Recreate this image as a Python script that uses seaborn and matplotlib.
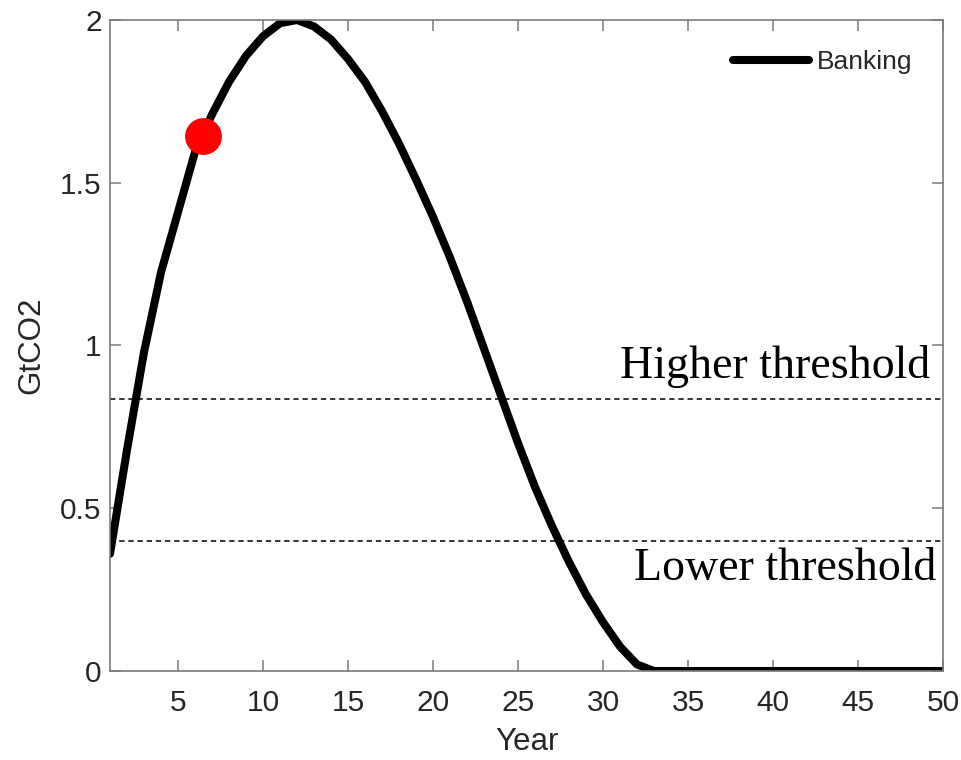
import matplotlib
matplotlib.use("Agg")
import matplotlib.pyplot as plt
import seaborn as sns
import pandas as pd

years = list(range(1, 51))
banking = [0.36, 0.68, 0.98, 1.225, 1.41, 1.595, 1.71, 1.81, 1.89, 1.95,
           1.99, 2.00, 1.98, 1.94, 1.88, 1.81, 1.72, 1.62, 1.51, 1.395,
           1.27, 1.135, 0.99, 0.845, 0.70, 0.565, 0.445, 0.335, 0.235, 0.15,
           0.075, 0.02, 0.0] + [0.0] * 17
marker_year = [6.45]
marker_value = [1.645]
thresholds = [0.835, 0.40]
threshold_labels = ["Higher threshold", "Lower threshold"]

sns.set_theme(style="white")
plt.rcParams['font.family'] = ['Liberation Sans', 'DejaVu Sans']

fig = plt.figure(figsize=(9.61, 7.6), dpi=100)
ax = fig.add_axes([0.1145, 0.1171, 0.8668, 0.8566])

df = pd.DataFrame({"Year": years, "GtCO2": banking})
sns.lineplot(data=df, x="Year", y="GtCO2", ax=ax, color="black", linewidth=5.8,
             label="Banking")
ax.plot(marker_year, marker_value, 'o', color="#ff0000", markersize=25.5, zorder=5)

for t in thresholds:
    ax.axhline(t, color="black", linestyle=(0, (3.5, 2.5)), linewidth=1.1, zorder=1)

ax.text(49.25, thresholds[0] + 0.10, threshold_labels[0], ha="right", va="center",
        fontsize=33, family=["Liberation Serif"], color="black")
ax.text(49.6, thresholds[1] - 0.087, threshold_labels[1], ha="right", va="center",
        fontsize=33, family=["Liberation Serif"], color="black")

ax.set_xlim(1, 50)
ax.set_ylim(0, 2)
ax.set_xticks([5, 10, 15, 20, 25, 30, 35, 40, 45, 50])
ax.set_yticks([0, 0.5, 1, 1.5, 2])
ax.set_yticklabels(["0", "0.5", "1", "1.5", "2"])
ax.set_xlabel("Year", fontsize=22.5, color="#262626", labelpad=7)
ax.set_ylabel("GtCO2", fontsize=22.5, color="#262626", labelpad=10)

for s in ax.spines.values():
    s.set_visible(True)
    s.set_color("#7a7a7a")
    s.set_linewidth(1.2)
ax.tick_params(direction="in", length=8, width=1.1, color="#7a7a7a",
               labelsize=21.5, labelcolor="#262626", top=True, right=True,
               bottom=True, left=True)
ax.tick_params(axis="x", pad=13)
ax.tick_params(axis="y", pad=6)

leg = ax.legend(loc="upper right", frameon=False, fontsize=19, handlelength=2.9,
                handletextpad=0.3, borderaxespad=0.75)
for line in leg.get_lines():
    line.set_linewidth(5.8)

fig.savefig("out.png", dpi=100)
